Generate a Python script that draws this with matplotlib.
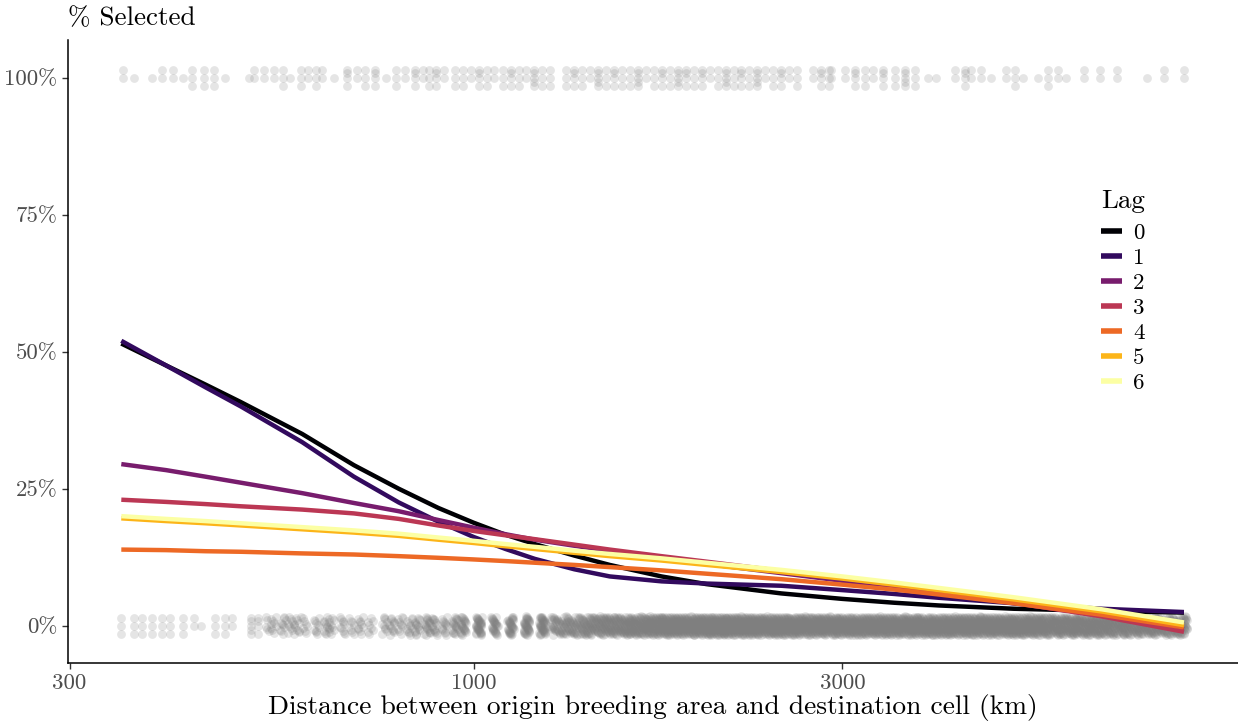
import numpy as np
import matplotlib.pyplot as plt

plt.rcParams['font.family'] = 'cmr10'
plt.rcParams['mathtext.fontset'] = 'cm'
plt.rcParams['axes.formatter.use_mathtext'] = True

# fitted selection curves (distance in km)
curve_km = [350, 400, 450, 500, 600, 700, 800, 900, 1000, 1100, 1200, 1350, 1500,
            1750, 2000, 2500, 3000, 3500, 4000, 5000, 6500, 8300]
lag_labels = ['0', '1', '2', '3', '4', '5', '6']
lag_colors = ['#000004', '#320A5E', '#781C6D', '#BB3754', '#ED6925', '#FCB519', '#FCFFA4']
lag0 = [0.515, 0.475, 0.44, 0.408, 0.35, 0.293, 0.25, 0.215, 0.188, 0.166, 0.149, 0.128, 0.111,
        0.09, 0.076, 0.059, 0.049, 0.042, 0.037, 0.031, 0.027, 0.024]
lag1 = [0.52, 0.475, 0.435, 0.4, 0.335, 0.272, 0.225, 0.19, 0.162, 0.14, 0.122, 0.103, 0.09,
        0.081, 0.077, 0.073, 0.065, 0.058, 0.051, 0.041, 0.031, 0.025]
lag2 = [0.295, 0.284, 0.272, 0.261, 0.242, 0.224, 0.209, 0.193, 0.179, 0.167, 0.157, 0.146, 0.137,
        0.124, 0.113, 0.096, 0.082, 0.07, 0.059, 0.041, 0.019, -0.006]
lag3 = [0.23, 0.226, 0.222, 0.218, 0.212, 0.205, 0.195, 0.183, 0.173, 0.165, 0.158, 0.148, 0.139,
        0.127, 0.117, 0.1, 0.087, 0.074, 0.062, 0.042, 0.017, -0.011]
lag4 = [0.139, 0.138, 0.136, 0.135, 0.132, 0.13, 0.127, 0.124, 0.121, 0.118, 0.115, 0.111, 0.107,
        0.101, 0.095, 0.085, 0.075, 0.066, 0.057, 0.041, 0.02, -0.003]
lag5 = [0.196, 0.191, 0.187, 0.183, 0.176, 0.17, 0.164, 0.157, 0.151, 0.145, 0.14, 0.133, 0.127,
        0.119, 0.111, 0.098, 0.086, 0.075, 0.065, 0.048, 0.026, 0.001]
lag6 = [0.2, 0.195, 0.191, 0.187, 0.18, 0.174, 0.168, 0.161, 0.155, 0.149, 0.144, 0.137, 0.131,
        0.123, 0.115, 0.102, 0.09, 0.079, 0.069, 0.052, 0.03, 0.006]
lag_values = [lag0, lag1, lag2, lag3, lag4, lag5, lag6]

# observed cells: distance column (km) and number of cells at that distance
sel_km = [352, 363, 383, 395, 408, 420, 432, 448, 461, 477, 512, 520, 535, 551, 567, 578,
          597, 611, 626, 637, 660, 686, 707, 723, 745, 770, 793, 816, 840, 860, 876, 895,
          915, 945, 968, 991, 1015, 1039, 1064, 1090, 1116, 1143, 1170, 1198, 1227, 1257,
          1318, 1349, 1382, 1415, 1449, 1484, 1520, 1556, 1594, 1631, 1670, 1711, 1752,
          1794, 1837, 1881, 1926, 1972, 2020, 2068, 2118, 2169, 2221, 2274, 2329, 2385,
          2442, 2500, 2560, 2622, 2749, 2815, 2883, 2904, 3027, 3118, 3212, 3289, 3387,
          3510, 3617, 3727, 3872, 3966, 4195, 4323, 4399, 4532, 4669, 4881, 5014, 5133,
          5366, 5528, 5695, 5832, 6169, 6472, 6808, 7441, 7824, 8301]
sel_n = [2, 1, 1, 2, 2, 1, 3, 3, 3, 1, 1, 2, 2, 2, 3, 1,
         3, 2, 3, 2, 1, 4, 2, 3, 4, 1, 3, 2, 4, 2, 3, 4,
         2, 3, 3, 2, 4, 3, 2, 3, 4, 3, 2, 5, 3, 3,
         3, 4, 3, 2, 5, 3, 4, 3, 3, 5, 2, 3, 4,
         3, 5, 4, 3, 4, 2, 3, 5, 3, 4, 3, 5, 2,
         3, 4, 2, 3, 2, 4, 3, 2, 2, 4, 3, 2, 4,
         3, 5, 3, 1, 1, 2, 4, 2, 2, 1, 2, 3, 1,
         1, 3, 2, 1, 2, 2, 2, 1, 2, 2]

unsel_km = [350, 363, 372, 383, 395, 405, 420, 435, 444, 463, 477, 487, 515, 526, 542, 551,
            566, 578, 590, 604, 626, 645, 656, 675, 695, 715, 734, 767, 785, 802, 826, 846,
            871, 890, 917, 945,
            968, 1015, 1064, 1116, 1170, 1227, 1287, 1349, 1415, 1484, 1556, 1631, 1711,
            1794, 1881, 1972, 2068, 2169, 2274, 2385, 2500, 2622, 2749, 2883, 3023, 3170,
            3324, 3485, 3655, 3832, 4019, 4214, 4419, 4633, 4859, 5095, 5342, 5602, 5874,
            6160, 6459, 6773, 7102, 7447, 7809, 8189]
unsel_n = [3, 3, 3, 3, 3, 3, 3, 2, 1, 3, 3, 2, 5, 4, 6, 8,
           10, 8, 10, 8, 10, 12, 8, 10, 8, 10, 8, 10, 12, 10, 12, 15,
           20, 15, 14, 20,
           25, 40, 30, 35, 40, 45, 50, 55, 70, 80, 80, 90, 100,
           110, 100, 110, 120, 110, 110, 100, 110, 100, 100, 100, 100, 100,
           100, 100, 100, 100, 100, 100, 100, 100, 100, 100, 100, 90, 90,
           90, 90, 80, 80, 80, 70, 70]


def spread(km_list, n_list, base):
    xs, ys = [], []
    for j, (km, n) in enumerate(zip(km_list, n_list)):
        for i in range(n):
            if n <= 5:
                dy = [0.0, 0.015, -0.015, 0.008, -0.008][i]
                dx = 0.0
            else:
                width = 0.008 if n <= 45 else 0.021
                dy = -0.017 + 0.034 * ((i * 0.618034 + j * 0.31) % 1)
                dx = ((i * 0.7548777 + j * 0.17) % 1 - 0.5) * width
            xs.append(km * 10 ** dx)
            ys.append(base + dy)
    return xs, ys


fig = plt.figure(figsize=(12.38, 7.23), dpi=100)
ax = fig.add_axes([68 / 1238, 60 / 723, 1170 / 1238, 623 / 723])

for km_list, n_list, base in [(sel_km, sel_n, 1.0), (unsel_km, unsel_n, 0.0)]:
    xs, ys = spread(km_list, n_list, base)
    ax.scatter(xs, ys, s=40, color='#7f7f7f', alpha=0.2, linewidths=0, zorder=1)

for lab, col, vals in zip(lag_labels, lag_colors, lag_values):
    ax.plot(curve_km, vals, color=col, lw=3.2, label=lab, solid_capstyle='butt',
            solid_joinstyle='round', zorder=2)

ax.set_xscale('log')
ax.set_xlim(298.6, 9750)
ax.set_ylim(-0.068, 1.069)
ax.set_xticks([300, 1000, 3000])
ax.set_xticklabels(['300', '1000', '3000'])
ax.xaxis.set_minor_locator(plt.NullLocator())
ax.set_yticks([0, 0.25, 0.5, 0.75, 1.0])
ax.set_yticklabels(['0%', '25%', '50%', '75%', '100%'])
ax.tick_params(axis='both', labelsize=16.5, labelcolor='#4d4d4d', length=4, width=1, color='#333333')
for side in ['top', 'right']:
    ax.spines[side].set_visible(False)
for side in ['left', 'bottom']:
    ax.spines[side].set_linewidth(1.1)

ax.set_xlabel('Distance between origin breeding area and destination cell (km)', fontsize=19.8, labelpad=1)
fig.text(68 / 1238, 1 - 18 / 723, '% Selected', ha='left', va='center', fontsize=19.5)

leg = ax.legend(title='Lag', loc='upper left', bbox_to_anchor=(1092 / 1238, 1 - 180 / 723),
                bbox_transform=fig.transFigure, frameon=False, fontsize=16.5,
                title_fontsize=19.5, handlelength=0.9, handletextpad=0.5, labelspacing=0.22,
                borderaxespad=0)
leg._legend_box.align = 'left'
leg._legend_box.sep = 7
for h in leg.get_lines():
    h.set_linewidth(4)

fig.savefig('out.png', dpi=100)
